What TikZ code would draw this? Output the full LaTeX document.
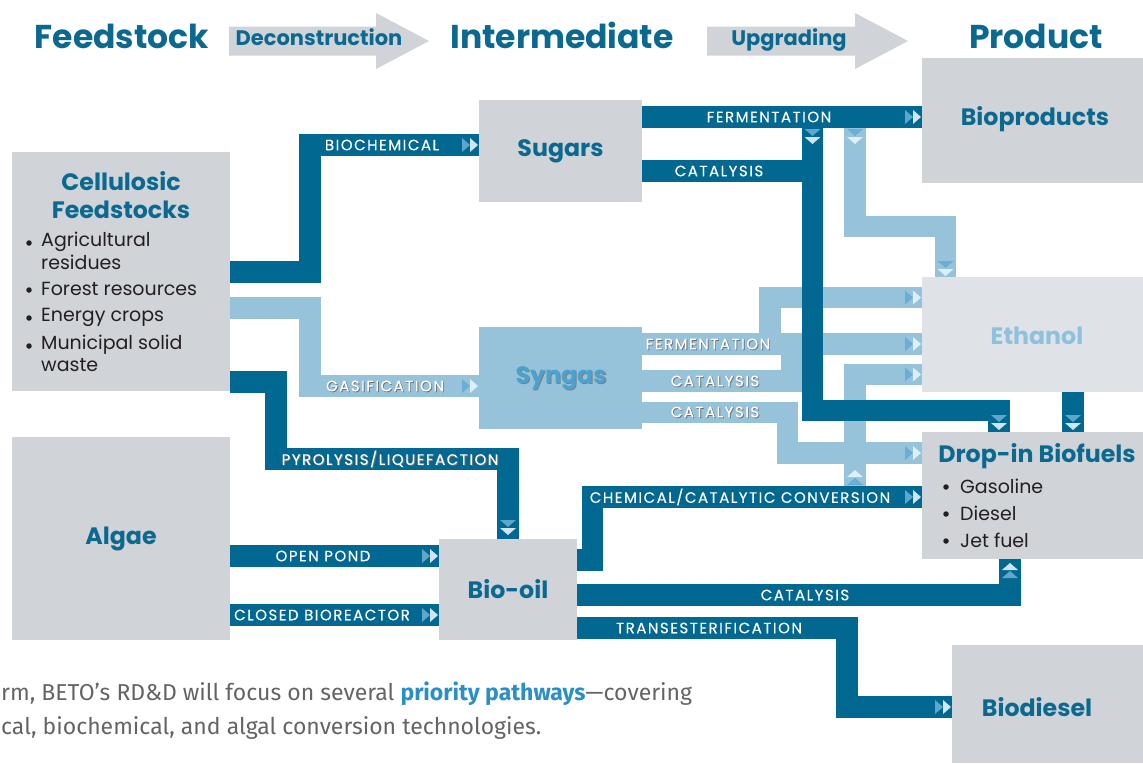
\documentclass[tikz,border=0pt]{standalone}
\usepackage{fontspec}
\setmainfont{Poppins}
\newfontfamily\bodyf{Fira Sans}
\newfontfamily\lblf{Poppins}[LetterSpace=10,FakeBold=0.3]
\definecolor{dkblue}{HTML}{006891}
\definecolor{ltblue}{HTML}{97C3DA}
\definecolor{boxgray}{HTML}{D0D3D8}
\definecolor{ethgray}{HTML}{DFE2E6}
\definecolor{hblue}{HTML}{0B6990}
\definecolor{ethtext}{HTML}{8EC1DC}
\definecolor{syntext}{HTML}{4CA2CF}
\definecolor{txtdark}{HTML}{231F20}
\definecolor{bodygray}{HTML}{636466}
\definecolor{prioblue}{HTML}{2A8FC4}
\definecolor{dkmed}{HTML}{5FA6CD}
\definecolor{dkpale}{HTML}{CFE6F2}
\definecolor{ltmed}{HTML}{69AED4}
\definecolor{ltpale}{HTML}{DCEEF7}
\newcommand{\chevR}[4]{%
  \fill[#3] (#1-17,#2-7) -- (#1-9,#2) -- (#1-17,#2+7) -- cycle;
  \fill[#4] (#1-9,#2-7) -- (#1-1,#2) -- (#1-9,#2+7) -- cycle;}
\newcommand{\chevD}[4]{%
  \fill[#3] (#1-8,#2) -- (#1+8,#2) -- (#1,#2+7) -- cycle;
  \fill[#4] (#1-8,#2+8) -- (#1+8,#2+8) -- (#1,#2+15) -- cycle;}
\newcommand{\chevU}[4]{%
  \fill[#3] (#1-8,#2) -- (#1+8,#2) -- (#1,#2-7) -- cycle;
  \fill[#4] (#1-8,#2-8) -- (#1+8,#2-8) -- (#1,#2-15) -- cycle;}
\newcommand{\shlbl}[3]{%
  \node[lbl, text=black!55] at (#1+0.9,#2+0.9) {#3};
  \node[lbl] at (#1,#2) {#3};}
\begin{document}
\begin{tikzpicture}[x=1pt,y=-1pt,
  box/.style={fill=boxgray, inner sep=0pt, outer sep=0pt, anchor=north west},
  head/.style={text=hblue, font=\fontsize{33}{38}\selectfont\bfseries, inner sep=0pt, anchor=base},
  sub/.style={text=hblue, font=\fontsize{21}{25}\selectfont\bfseries, inner sep=0pt, anchor=base},
  ttl/.style={text=hblue, font=\fontsize{23.7}{28}\selectfont\bfseries},
  lbl/.style={text=white, font=\lblf\fontsize{15}{17}\selectfont, inner sep=0pt},
  itm/.style={text=txtdark, font=\fontsize{19}{22}\selectfont, anchor=west, inner sep=0pt},
  dot/.style={fill=txtdark, circle, inner sep=0pt, minimum size=5.5pt},
  dkband/.style={draw=dkblue, line width=21.5pt, line join=miter, line cap=butt},
  ltband/.style={draw=ltblue, line width=21.5pt, line join=miter, line cap=butt},
  harrow/.style={fill=boxgray}]
\useasboundingbox (0,0) rectangle (1143,763);
\fill[white] (0,0) rectangle (1143,763);

% ---- headers
\node[head] (hfeed) at (122,48.5) {Feedstock};
\node[head] (hint) at (562,48.5) {Intermediate};
\node[head] (hprod) at (1036,48.5) {Product};
\fill[harrow] (229,26.5) -- (376,26.5) -- (376,13) -- (429,41) -- (376,69) -- (376,55.5) -- (229,55.5) -- cycle;
\fill[harrow] (707,26.5) -- (855,26.5) -- (855,13) -- (908,41) -- (855,69) -- (855,55.5) -- (707,55.5) -- cycle;
\node[sub] (hdec) at (319,45) {Deconstruction};
\node[sub] (hupg) at (789,45) {Upgrading};

% ---- boxes
\node[box, minimum width=218pt, minimum height=239pt] (cell) at (12,152) {};
\node[box, minimum width=218pt, minimum height=203pt, ttl] (algae) at (12,437) {Algae};
\node[box, minimum width=163pt, minimum height=102pt, ttl] (sugars) at (479,100) {Sugars};
\node[box, fill=ltblue, minimum width=163pt, minimum height=102pt] (syngas) at (479,327) {};
\node[box, minimum width=138pt, minimum height=101pt, ttl] (biooil) at (439,539) {Bio-oil};
\node[box, minimum width=221pt, minimum height=125pt] (biopro) at (922,58) {};
\node[box, fill=ethgray, minimum width=221pt, minimum height=115pt] (ethanol) at (922,277) {};
\node[box, minimum width=221pt, minimum height=127pt] (dropin) at (922,432) {};
\node[box, minimum width=191pt, minimum height=118pt] (biodiesel) at (952,645) {};

% box texts
\node[ttl, inner sep=0pt] at (121,181) {Cellulosic};
\node[ttl, inner sep=0pt] at (121,210) {Feedstocks};
\node[dot] at (29,243) {};
\node[itm] at (41,242) {Agricultural};
\node[itm] at (41,262) {residues};
\node[dot] at (29,290) {};
\node[itm] at (41,289) {Forest resources};
\node[dot] at (29,318) {};
\node[itm] at (41,317) {Energy crops};
\node[dot] at (29,346) {};
\node[itm] at (41,345) {Municipal solid};
\node[itm] at (41,365) {waste};
\node[ttl, inner sep=0pt] at (1035,119) {Bioproducts};
\node[ttl, inner sep=0pt, text=black!50] at (562,379) {Syngas};
\node[ttl, inner sep=0pt, text=syntext] at (561,378) {Syngas};
\node[ttl, inner sep=0pt, text=ethtext] at (1037,336) {Ethanol};
\node[ttl, inner sep=0pt] at (1037,456) {Drop-in Biofuels};
\node[dot] at (946,487) {};
\node[itm] at (960,486) {Gasoline};
\node[dot] at (946,514) {};
\node[itm] at (960,513) {Diesel};
\node[dot] at (946,541) {};
\node[itm] at (960,540) {Jet fuel};
\node[ttl, inner sep=0pt] at (1037,707) {Biodiesel};

% ---- light bands
\draw[ltband] (cell.east |- 0,308) -| (310,386) -- (syngas.west |- 0,386);
\draw[ltband] (syngas.east |- 0,344) -- (ethanol.west |- 0,344);
\draw[ltband] (770,344) |- (ethanol.west |- 0,297.5);
\draw[ltband] (syngas.east |- 0,381) -| (791.5,333.5);
\draw[ltband] (syngas.east |- 0,412.5) -| (787.5,453) -- (dropin.west |- 0,453);
\draw[ltband] (855,486) |- (ethanol.west |- 0,374.5);
\draw[ltband] (855,128) |- (945.5,226.5) -- (ethanol.north -| 945.5,0);

% ---- dark bands
\draw[dkband] (cell.east |- 0,272) -| (310,145) -- (sugars.west |- 0,145);
\draw[dkband] (cell.east |- 0,382) -| (276,459) -| (biooil.north -| 508,0);
\draw[dkband] (algae.east |- 0,556) -- (biooil.west |- 0,556);
\draw[dkband] (algae.east |- 0,615) -- (biooil.west |- 0,615);
\draw[dkband] (sugars.east |- 0,117) -- (biopro.west |- 0,117);
\draw[dkband] (sugars.east |- 0,171) -- (823,171);
\draw[dkband] (812.5,117) |- (999,410.5) -- (dropin.north -| 999,0);
\draw[dkband] (ethanol.south -| 1073,0) -- (dropin.north -| 1073,0);
\draw[dkband] (biooil.east |- 0,560) -| (592.5,497) -- (dropin.west |- 0,497);
\draw[dkband] (biooil.east |- 0,595) -| (dropin.south -| 1010,0);
\draw[dkband] (biooil.east |- 0,628) -| (847,707) -- (biodiesel.west |- 0,707);

% ---- chevrons
\chevR{479}{145}{dkmed}{dkpale}
\chevR{479}{386}{ltmed}{ltpale}
\chevR{439}{556}{dkmed}{dkpale}
\chevR{439}{615}{dkmed}{dkpale}
\chevR{922}{117}{dkmed}{dkpale}
\chevR{922}{297.5}{ltmed}{ltpale}
\chevR{922}{344}{ltmed}{ltpale}
\chevR{922}{374.5}{ltmed}{ltpale}
\chevR{922}{453}{ltmed}{ltpale}
\chevR{922}{497}{dkmed}{dkpale}
\chevR{952}{707}{dkmed}{dkpale}
\chevD{812.5}{129}{dkmed}{dkpale}
\chevD{855}{129}{ltmed}{ltpale}
\chevD{945.5}{261}{ltmed}{ltpale}
\chevD{999}{415}{dkmed}{dkpale}
\chevD{1073}{415}{dkmed}{dkpale}
\chevD{508}{520}{dkmed}{dkpale}
\chevU{855}{485}{ltmed}{ltpale}
\chevU{1010}{578}{dkmed}{dkpale}

% ---- band labels
\node[lbl] at (382,145) {BIOCHEMICAL};
\shlbl{385}{386}{GASIFICATION}
\shlbl{390}{459}{PYROLYSIS/LIQUEFACTION}
\node[lbl] at (323,556) {OPEN POND};
\node[lbl] at (322,615) {CLOSED BIOREACTOR};
\node[lbl] at (769,117) {FERMENTATION};
\node[lbl] at (719,171) {CATALYSIS};
\shlbl{708}{344}{FERMENTATION}
\shlbl{715}{381}{CATALYSIS}
\shlbl{715}{412}{CATALYSIS}
\node[lbl] at (740,497) {CHEMICAL/CATALYTIC CONVERSION};
\node[lbl] at (805,595) {CATALYSIS};
\node[lbl] at (709,628) {TRANSESTERIFICATION};

% ---- body text
\node[anchor=west, inner sep=0pt, text=bodygray, font=\bodyf\fontsize{23}{27}\selectfont] at (1,694) {rm, BETO’s RD\&D will focus on several \textcolor{prioblue}{\bfseries priority pathways}—covering};
\node[anchor=west, inner sep=0pt, text=bodygray, font=\bodyf\fontsize{23}{27}\selectfont] at (1,728) {cal, biochemical, and algal conversion technologies.};
\end{tikzpicture}
\end{document}
